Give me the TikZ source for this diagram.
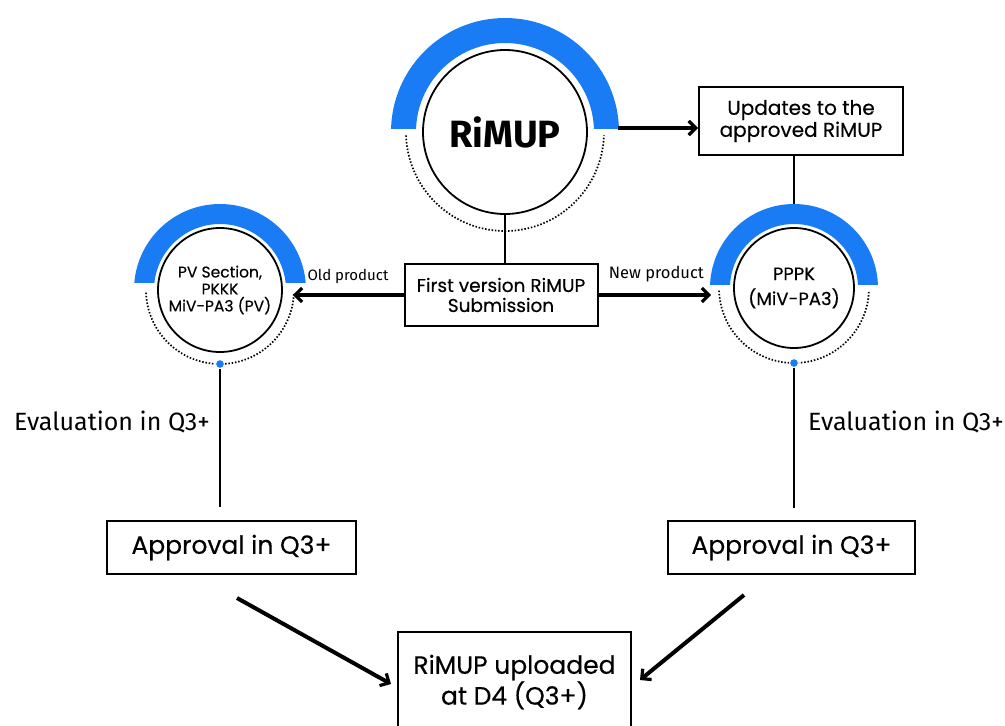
\documentclass[tikz,border=0pt]{standalone}
\usepackage{fontspec}
\setmainfont{Poppins}[FakeBold=0.4]
\newfontfamily\labelfont{Fira Sans}
\usetikzlibrary{arrows.meta,positioning,calc}
\definecolor{RingBlue}{HTML}{1A7CF5}
\tikzset{
  box/.style={rectangle,draw,line width=2pt,align=center,inner sep=0pt},
  core/.style={circle,draw,line width=1.8pt,align=center,inner sep=0pt},
  dotline/.style={line width=1.7pt,dash pattern=on 1.5pt off 1.8pt},
  arr/.style={-{Straight Barb[length=7pt,width=14pt,line width=3.2pt]},line width=4pt},
  link/.style={line width=2pt},
  lbl/.style={font=\labelfont\fontsize{15}{17}\selectfont},
  evaltxt/.style={font=\labelfont\fontsize{25}{30}\selectfont,inner sep=0pt},
  bluedot/.style={circle,fill=RingBlue,draw=white,line width=1pt,inner sep=0pt,minimum size=9pt}
}
% blue half ring + dotted lower arc round a circle node
% #1 node, #2 outer r, #3 inner r, #4 dotted r, #5 cut above centre
\newcommand{\ringdeco}[5]{%
  \begin{scope}
    \clip ($(#1.center)+(-#2-2,-#5)$) rectangle ($(#1.center)+(#2+2,-#2-2)$);
    \fill[RingBlue,even odd rule] (#1.center) circle[radius=#2pt] (#1.center) circle[radius=#3pt];
  \end{scope}
  \draw[dotline] ($(#1.center)+(182:#4pt)$) arc[start angle=182,end angle=358,radius=#4pt];
}
\begin{document}
\begin{tikzpicture}[x=1pt,y=-1pt]
  \useasboundingbox (0,0) rectangle (1005,726);

  % circles
  \node[core,minimum size=164pt] (rimup) at (505,132) {\labelfont\bfseries\fontsize{38}{40}\selectfont R\kern-0.5pt iMUP};
  \node[core,minimum size=124pt,font=\fontsize{15.5}{17}\selectfont] (pvsec) at (220,290) {PV Section,\\PKKK\\MiV-PA3 (PV)};
  \node[core,minimum size=120pt,font=\fontsize{18}{25}\selectfont] (pppk) at (794,288) {PPPK\\(MiV-PA3)};
  \ringdeco{rimup}{114}{89}{99}{4}
  \ringdeco{pvsec}{86}{66}{74}{8}
  \ringdeco{pppk}{84}{64}{75}{4}
  \node[bluedot] (pvdot) at ($(pvsec)+(0,74)$) {};
  \node[bluedot] (pppkdot) at ($(pppk)+(0,75)$) {};

  % boxes
  \node[box,minimum width=193pt,minimum height=62pt,font=\fontsize{18.5}{20}\selectfont] (first) at (501,295) {First version RiMUP\\Submission};
  \node[box,minimum width=204pt,minimum height=68pt,font=\fontsize{20}{22}\selectfont] (updates) at (801,121) {Updates to the\\approved RiMUP};
  \node[box,minimum width=249pt,minimum height=53pt,font=\fontsize{25}{26}\selectfont] (apprL) at (231.5,547.5) {Approval in Q3+};
  \node[box,minimum width=247pt,minimum height=53pt,font=\fontsize{25}{26}\selectfont] (apprR) at (791.5,547.5) {Approval in Q3+};
  \node[box,minimum width=233pt,minimum height=100pt,font=\fontsize{25}{29}\selectfont] (upload) at (514.5,682) {RiMUP uploaded\\at D4 (Q3+)};

  % connectors
  \coordinate (rimupR) at ($(rimup.center)+(113,-4)$);
  \draw[arr] (rimupR) -- (rimupR -| updates.west);
  \draw[link] (updates.south -| pppk) -- ($(pppk)+(0,-84)$);
  \draw[link] (rimup.south) -- (rimup.south |- first.north);
  \draw[arr,shorten >=10pt] (first.west) -- (first.west -| pvsec.east)
    node[lbl,pos=0.46,above=6pt] {Old product};
  \draw[arr,shorten >=22pt] (first.east) -- (first.east -| pppk.west)
    node[lbl,font=\labelfont\fontsize{16.5}{18}\selectfont,pos=0.43,above=8pt] {New product};

  \coordinate (evalLend) at (220,507);
  \coordinate (evalRend) at (794,508);
  \draw[link] (pvdot) -- (evalLend);
  \draw[link] (pppkdot) -- (evalRend);
  \node[evaltxt,anchor=east] (evalL) at (210,422) {Evaluation in Q3+};
  \node[evaltxt,anchor=west] (evalR) at (808,422) {Evaluation in Q3+};

  \coordinate (fromL) at (237,598);
  \coordinate (fromR) at (744,595);
  \draw[arr] (fromL) -- ($(upload.west)+(-6,2)$);
  \draw[arr] (fromR) -- ($(upload.east)+(8,-2)$);
\end{tikzpicture}
\end{document}
